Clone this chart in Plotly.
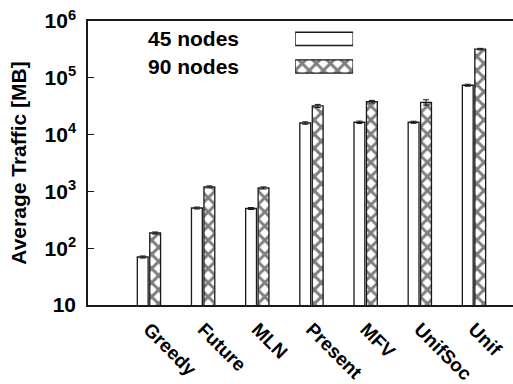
import plotly.graph_objects as go

categories = ["Greedy", "Future", "MLN", "Present", "MFV", "UnifSoc", "Unif"]
nodes45 = [70, 510, 500, 16000, 16500, 16500, 74000]
nodes90 = [185, 1200, 1150, 32000, 38000, 37000, 320000]
err45 = [3, 20, 20, 800, 800, 700, 3000]
err90 = [8, 50, 50, 2000, 2000, 4000, 10000]
series_names = ["45 nodes", "90 nodes"]
ytick_vals = [10, 100, 1000, 10000, 100000, 1000000]
ytick_text = ["10", "10<sup>2</sup>", "10<sup>3</sup>", "10<sup>4</sup>", "10<sup>5</sup>", "10<sup>6</sup>"]

FONT = "Liberation Sans, Arial, sans-serif"
LINE = "#1a1a1a"
pattern90 = dict(shape="x", size=10, solidity=0.5, fgcolor="#000000", bgcolor="white", fillmode="overlay")

x = list(range(len(categories)))
fig = go.Figure()
fig.add_trace(go.Bar(
    x=[i - 0.115 for i in x], y=nodes45, width=0.2, name=series_names[0],
    marker=dict(color="white", line=dict(color=LINE, width=1.3)),
    error_y=dict(type="data", array=err45, color=LINE, thickness=1, width=3),
    showlegend=False,
))
fig.add_trace(go.Bar(
    x=[i + 0.115 for i in x], y=nodes90, width=0.2, name=series_names[1],
    marker=dict(color="white", line=dict(color=LINE, width=1.3), pattern=pattern90),
    error_y=dict(type="data", array=err90, color=LINE, thickness=1, width=3),
    showlegend=False,
))

# legend swatches drawn on an overlay axis
fig.add_trace(go.Bar(
    x=[1], y=[1], orientation="h", width=0.48, xaxis="x2", yaxis="y2",
    marker=dict(color="white", line=dict(color=LINE, width=1.3)), showlegend=False, hoverinfo="skip",
))
fig.add_trace(go.Bar(
    x=[1], y=[0], orientation="h", width=0.48, xaxis="x2", yaxis="y2",
    marker=dict(color="white", line=dict(color=LINE, width=1.3), pattern=pattern90), showlegend=False, hoverinfo="skip",
))
for name, yv in zip(series_names, [0.937, 0.840]):
    fig.add_annotation(x=0.36, y=yv, xref="paper", yref="paper", text=name, showarrow=False,
                       xanchor="right", yanchor="middle",
                       font=dict(family=FONT, size=21, color="black", weight="bold"))

fig.update_layout(
    width=513, height=384,
    margin=dict(l=88, r=0, t=21, b=79),
    paper_bgcolor="white", plot_bgcolor="white",
    barmode="overlay",
    font=dict(family=FONT, size=20, color="black"),
    xaxis=dict(
        range=[-1.125, 6.72], tickvals=x, ticktext=categories, tickangle=45,
        showline=True, linecolor=LINE, linewidth=1.5, mirror=True, automargin=False,
        showgrid=False, zeroline=False, ticks="", tickfont=dict(family=FONT, size=19, weight="bold"),
        ticklabelstandoff=4,
    ),
    yaxis=dict(
        type="log", range=[1, 6], tickvals=ytick_vals, ticktext=ytick_text, automargin=False,
        showline=True, linecolor=LINE, linewidth=1.5, showgrid=False, zeroline=False,
        ticks="inside", ticklen=6, tickcolor=LINE, tickfont=dict(family=FONT, size=21, weight="bold"),
        ticklabelstandoff=6,
        title=dict(text="Average Traffic [MB]", font=dict(family=FONT, size=21, weight="bold"), standoff=12),
    ),
    xaxis2=dict(domain=[250 / 513, 320 / 513], range=[0, 1], visible=False, fixedrange=True, anchor="y2"),
    yaxis2=dict(domain=[0.80, 0.975], range=[-0.41, 1.39], visible=False, fixedrange=True, anchor="x2"),
)

fig.write_html("out.html")
